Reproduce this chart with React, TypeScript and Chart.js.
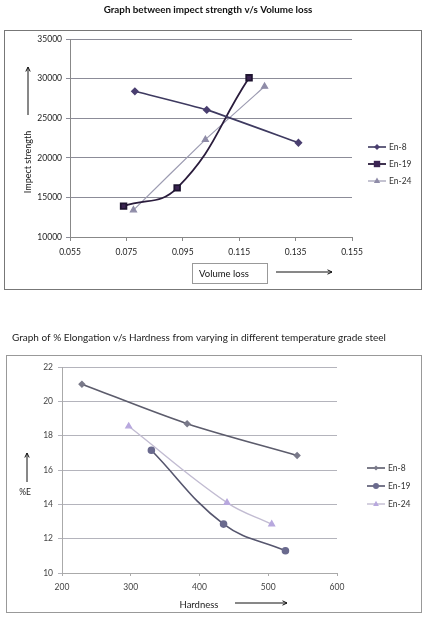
import React, { useEffect, useRef } from "react";
import { Chart, registerables } from "chart.js";

Chart.register(...registerables);

// ---------- Chart 1: Impect strength v/s Volume loss ----------
const topSeries = ["En-8", "En-19", "En-24"];
const volEn8 = [0.078, 0.1035, 0.136];
const impEn8 = [28400, 26050, 21900];
const volEn19 = [0.074, 0.093, 0.1185];
const impEn19 = [13900, 16200, 30100];
const volEn24 = [0.0775, 0.103, 0.124];
const impEn24 = [13400, 22300, 29000];
const topXTicks = [0.055, 0.075, 0.095, 0.115, 0.135, 0.155];
const topYTicks = [10000, 15000, 20000, 25000, 30000, 35000];

// ---------- Chart 2: % Elongation v/s Hardness ----------
const botSeries = ["En-8", "En-19", "En-24"];
const hardEn8 = [229, 382, 542];
const elEn8 = [21.0, 18.7, 16.85];
const hardEn19 = [330, 435, 525];
const elEn19 = [17.15, 12.85, 11.3];
const hardEn24 = [297, 440, 505];
const elEn24 = [18.55, 14.1, 12.85];
const botXTicks = [200, 300, 400, 500, 600];
const botYTicks = [10, 12, 14, 16, 18, 20, 22];

const FONT = "Lato, 'Open Sans', sans-serif";

const zip = (xs: number[], ys: number[]) => xs.map((x, i) => ({ x, y: ys[i] }));

function drawMarker(ctx: CanvasRenderingContext2D, style: string, x: number, y: number, r: number, color: string) {
  ctx.save();
  ctx.fillStyle = color;
  ctx.strokeStyle = color;
  ctx.beginPath();
  if (style === "rectRot") {
    ctx.moveTo(x, y - r);
    ctx.lineTo(x + r, y);
    ctx.lineTo(x, y + r);
    ctx.lineTo(x - r, y);
    ctx.closePath();
  } else if (style === "rect") {
    ctx.rect(x - r * 0.8, y - r * 0.8, r * 1.6, r * 1.6);
  } else if (style === "triangle") {
    ctx.moveTo(x, y - r);
    ctx.lineTo(x + r * 0.9, y + r * 0.6);
    ctx.lineTo(x - r * 0.9, y + r * 0.6);
    ctx.closePath();
  } else {
    ctx.arc(x, y, r, 0, Math.PI * 2);
  }
  ctx.fill();
  ctx.restore();
}

function arrow(ctx: CanvasRenderingContext2D, x1: number, y1: number, x2: number, y2: number) {
  ctx.save();
  ctx.strokeStyle = "#111";
  ctx.lineWidth = 1;
  ctx.beginPath();
  ctx.moveTo(x1, y1);
  ctx.lineTo(x2, y2);
  const a = Math.atan2(y2 - y1, x2 - x1);
  const h = 5;
  ctx.moveTo(x2, y2);
  ctx.lineTo(x2 - h * Math.cos(a - 0.45), y2 - h * Math.sin(a - 0.45));
  ctx.moveTo(x2, y2);
  ctx.lineTo(x2 - h * Math.cos(a + 0.45), y2 - h * Math.sin(a + 0.45));
  ctx.stroke();
  ctx.restore();
}

function legend(chart: any, x: number, ys: number[]) {
  const ctx: CanvasRenderingContext2D = chart.ctx;
  chart.data.datasets.forEach((ds: any, i: number) => {
    const y = ys[i];
    ctx.save();
    ctx.strokeStyle = ds.borderColor;
    ctx.lineWidth = ds.borderWidth;
    ctx.beginPath();
    ctx.moveTo(x, y);
    ctx.lineTo(x + 18, y);
    ctx.stroke();
    ctx.restore();
    drawMarker(ctx, ds.pointStyle, x + 9, y, ds.pointRadius, ds.pointBackgroundColor);
    ctx.save();
    ctx.fillStyle = "#333";
    ctx.font = `8.5px ${FONT}`;
    ctx.textAlign = "left";
    ctx.textBaseline = "middle";
    ctx.fillText(ds.label, x + 21, y);
    ctx.restore();
  });
}

const topDecor = {
  id: "topDecor",
  afterDraw(chart: any) {
    const ctx: CanvasRenderingContext2D = chart.ctx;
    const a = chart.chartArea;
    ctx.save();
    ctx.fillStyle = "#111";
    ctx.font = `bold 9.8px ${FONT}`;
    ctx.textAlign = "center";
    ctx.textBaseline = "middle";
    ctx.fillText("Graph between impect strength v/s Volume loss", 208, 10);
    ctx.strokeStyle = "#777";
    ctx.lineWidth = 1;
    ctx.strokeRect(4.5, 30.5, 417, 259);
    // y title
    ctx.save();
    ctx.translate(28, 162);
    ctx.rotate(-Math.PI / 2);
    ctx.font = `9px ${FONT}`;
    ctx.fillText("Impect strength", 0, 0);
    ctx.restore();
    // x title box
    ctx.strokeStyle = "#999";
    ctx.strokeRect(192.5, 263.5, 75, 20);
    ctx.font = `9.5px ${FONT}`;
    ctx.fillText("Volume loss", 224, 273.5);
    ctx.restore();
    arrow(ctx, 28, 115, 28, 67);
    arrow(ctx, 276, 272, 332, 272);
    legend(chart, a.right + 16, [147, 164, 181]);
  },
};

const botDecor = {
  id: "botDecor",
  afterDraw(chart: any) {
    const ctx: CanvasRenderingContext2D = chart.ctx;
    const a = chart.chartArea;
    ctx.save();
    ctx.fillStyle = "#222";
    ctx.font = `10px ${FONT}`;
    ctx.textAlign = "left";
    ctx.textBaseline = "middle";
    ctx.fillText("Graph of % Elongation v/s Hardness from varying in different temperature grade steel", 12, 38);
    ctx.strokeStyle = "#999";
    ctx.lineWidth = 1;
    ctx.strokeRect(6.5, 55.5, 415, 257);
    ctx.textAlign = "center";
    ctx.font = `8.5px ${FONT}`;
    ctx.fillText("%E", 25, 192);
    ctx.font = `9.5px ${FONT}`;
    ctx.fillText("Hardness", 199, 305);
    ctx.restore();
    arrow(ctx, 27, 182, 27, 153);
    arrow(ctx, 235, 303, 287, 303);
    legend(chart, a.right + 30, [168, 186, 204]);
  },
};

function makeTop(canvas: HTMLCanvasElement) {
  return new Chart(canvas, {
    type: "line",
    data: {
      datasets: [
        {
          label: topSeries[0],
          data: zip(volEn8, impEn8),
          borderColor: "#3e3a60",
          backgroundColor: "#3e3a60",
          pointBackgroundColor: "#4a3f70",
          pointBorderColor: "#4a3f70",
          pointStyle: "rectRot",
          pointRadius: 3,
          borderWidth: 1.6,
          tension: 0.15,
        },
        {
          label: topSeries[1],
          data: zip(volEn19, impEn19),
          borderColor: "#2a1c3c",
          backgroundColor: "#2a1c3c",
          pointBackgroundColor: "#3b2452",
          pointBorderColor: "#1e1430",
          pointStyle: "rect",
          pointRadius: 4,
          borderWidth: 1.8,
          tension: 0.45,
        },
        {
          label: topSeries[2],
          data: zip(volEn24, impEn24),
          borderColor: "#9d9cb2",
          backgroundColor: "#9d9cb2",
          pointBackgroundColor: "#8f8ca8",
          pointBorderColor: "#8f8ca8",
          pointStyle: "triangle",
          pointRadius: 3.5,
          borderWidth: 1.2,
          tension: 0.1,
        },
      ],
    },
    options: {
      responsive: false,
      animation: false,
      layout: { padding: { left: 30, right: 74, top: 39, bottom: 43 } },
      plugins: { legend: { display: false }, tooltip: { enabled: false }, title: { display: false } },
      scales: {
        x: {
          type: "linear",
          min: 0.055,
          max: 0.155,
          afterBuildTicks: (s: any) => {
            s.ticks = topXTicks.map((v) => ({ value: v }));
          },
          afterFit: (s: any) => {
            s.height = 20;
          },
          ticks: {
            font: { family: FONT, size: 8.5 },
            color: "#222",
            padding: 6,
            maxRotation: 0,
            callback: (v: any) => Number(v).toFixed(3),
          },
          grid: { drawOnChartArea: false, drawTicks: true, tickLength: 4, color: "#888" },
          border: { display: true, color: "#888" },
        },
        y: {
          type: "linear",
          min: 10000,
          max: 35000,
          afterBuildTicks: (s: any) => {
            s.ticks = topYTicks.map((v) => ({ value: v }));
          },
          afterFit: (s: any) => {
            s.width = 40;
          },
          ticks: {
            font: { family: FONT, size: 8.5 },
            color: "#222",
            padding: 4,
            callback: (v: any) => String(v),
          },
          grid: { color: "#8c8c98", lineWidth: 1, drawTicks: true, tickLength: 4 },
          border: { display: true, color: "#888" },
        },
      },
    },
    plugins: [topDecor],
  } as any);
}

function makeBot(canvas: HTMLCanvasElement) {
  return new Chart(canvas, {
    type: "line",
    data: {
      datasets: [
        {
          label: botSeries[0],
          data: zip(hardEn8, elEn8),
          borderColor: "#5c5c6c",
          backgroundColor: "#5c5c6c",
          pointBackgroundColor: "#7a7a8a",
          pointBorderColor: "#7a7a8a",
          pointStyle: "rectRot",
          pointRadius: 2.6,
          borderWidth: 1.6,
          tension: 0.3,
        },
        {
          label: botSeries[1],
          data: zip(hardEn19, elEn19),
          borderColor: "#56566e",
          backgroundColor: "#56566e",
          pointBackgroundColor: "#6a6a8e",
          pointBorderColor: "#6a6a8e",
          pointStyle: "circle",
          pointRadius: 3,
          borderWidth: 1.6,
          tension: 0.4,
        },
        {
          label: botSeries[2],
          data: zip(hardEn24, elEn24),
          borderColor: "#c2bcd2",
          backgroundColor: "#c2bcd2",
          pointBackgroundColor: "#b8a8de",
          pointBorderColor: "#b8a8de",
          pointStyle: "triangle",
          pointRadius: 3.2,
          borderWidth: 1.4,
          tension: 0.4,
        },
      ],
    },
    options: {
      responsive: false,
      animation: false,
      layout: { padding: { left: 28, right: 89, top: 67, bottom: 29 } },
      plugins: { legend: { display: false }, tooltip: { enabled: false }, title: { display: false } },
      scales: {
        x: {
          type: "linear",
          min: 200,
          max: 600,
          afterBuildTicks: (s: any) => {
            s.ticks = botXTicks.map((v) => ({ value: v }));
          },
          afterFit: (s: any) => {
            s.height = 20;
          },
          ticks: {
            font: { family: FONT, size: 8.5 },
            color: "#444",
            padding: 6,
            maxRotation: 0,
          },
          grid: { drawOnChartArea: false, drawTicks: true, tickLength: 3, color: "#aaa" },
          border: { display: true, color: "#aaa" },
        },
        y: {
          type: "linear",
          min: 10,
          max: 22,
          afterBuildTicks: (s: any) => {
            s.ticks = botYTicks.map((v) => ({ value: v }));
          },
          afterFit: (s: any) => {
            s.width = 34;
          },
          ticks: {
            font: { family: FONT, size: 8.5 },
            color: "#444",
            padding: 5,
          },
          grid: { color: "#b4b4bc", lineWidth: 1, drawTicks: true, tickLength: 4 },
          border: { display: true, color: "#aaa" },
        },
      },
    },
    plugins: [botDecor],
  } as any);
}

export default function App() {
  const topRef = useRef<HTMLCanvasElement>(null);
  const botRef = useRef<HTMLCanvasElement>(null);

  useEffect(() => {
    const c1 = topRef.current ? makeTop(topRef.current) : null;
    const c2 = botRef.current ? makeBot(botRef.current) : null;
    return () => {
      c1?.destroy();
      c2?.destroy();
    };
  }, []);

  return (
    <div
      style={{
        position: "fixed",
        left: 0,
        top: 0,
        width: 426,
        height: 622,
        background: "#fff",
        overflow: "hidden",
      }}
    >
      <canvas
        ref={topRef}
        width={426}
        height={300}
        style={{ position: "absolute", left: 0, top: 0, width: 426, height: 300, display: "block" }}
      />
      <canvas
        ref={botRef}
        width={426}
        height={322}
        style={{ position: "absolute", left: 0, top: 300, width: 426, height: 322, display: "block" }}
      />
    </div>
  );
}
